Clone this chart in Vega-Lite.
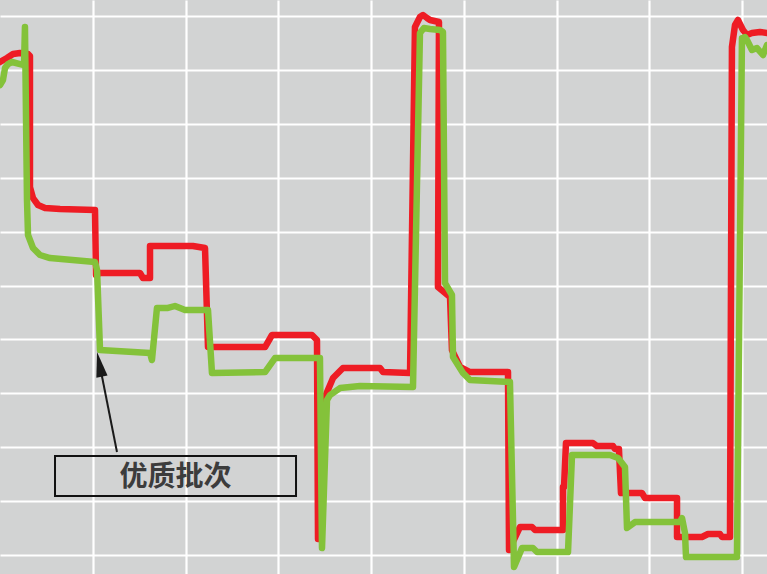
{
  "$schema": "https://vega.github.io/schema/vega-lite/v6.json",
  "width": 767,
  "height": 574,
  "autosize": {"type": "fit", "contains": "padding"},
  "padding": 0,
  "background": "#d2d3d3",
  "config": {
    "view": {"stroke": null, "fill": "#d2d3d3"},
    "axis": {"grid": true, "gridColor": "#ffffff", "gridWidth": 2.2, "gridOpacity": 1, "labels": false, "ticks": false, "domain": false, "title": null}
  },
  "datasets": {
    "series": [
      {"s": "普通批次", "i": 0, "x": 0, "y": 91.47},
      {"s": "普通批次", "i": 1, "x": 0.75, "y": 92.21},
      {"s": "普通批次", "i": 2, "x": 1.40, "y": 92.95},
      {"s": "普通批次", "i": 3, "x": 2.16, "y": 93.14},
      {"s": "普通批次", "i": 4, "x": 3.02, "y": 92.95},
      {"s": "普通批次", "i": 5, "x": 3.23, "y": 92.58},
      {"s": "普通批次", "i": 6, "x": 3.23, "y": 68.27},
      {"s": "普通批次", "i": 7, "x": 3.56, "y": 66.23},
      {"s": "普通批次", "i": 8, "x": 4.10, "y": 64.94},
      {"s": "普通批次", "i": 9, "x": 4.85, "y": 64.38},
      {"s": "普通批次", "i": 10, "x": 6.47, "y": 64.19},
      {"s": "普通批次", "i": 11, "x": 10.24, "y": 64.01},
      {"s": "普通批次", "i": 12, "x": 10.35, "y": 51.95},
      {"s": "普通批次", "i": 13, "x": 10.78, "y": 52.32},
      {"s": "普通批次", "i": 14, "x": 15.09, "y": 52.32},
      {"s": "普通批次", "i": 15, "x": 15.41, "y": 51.39},
      {"s": "普通批次", "i": 16, "x": 16.17, "y": 51.39},
      {"s": "普通批次", "i": 17, "x": 16.17, "y": 57.33},
      {"s": "普通批次", "i": 18, "x": 20.80, "y": 57.33},
      {"s": "普通批次", "i": 19, "x": 22.10, "y": 56.96},
      {"s": "普通批次", "i": 20, "x": 22.42, "y": 38.59},
      {"s": "普通批次", "i": 21, "x": 28.57, "y": 38.59},
      {"s": "普通批次", "i": 22, "x": 29.32, "y": 40.82},
      {"s": "普通批次", "i": 23, "x": 33.63, "y": 40.82},
      {"s": "普通批次", "i": 24, "x": 34.17, "y": 39.89},
      {"s": "普通批次", "i": 25, "x": 34.28, "y": 2.97},
      {"s": "普通批次", "i": 26, "x": 35.03, "y": 29.31},
      {"s": "普通批次", "i": 27, "x": 35.90, "y": 32.84},
      {"s": "普通批次", "i": 28, "x": 36.97, "y": 34.69},
      {"s": "普通批次", "i": 29, "x": 40.96, "y": 34.69},
      {"s": "普通批次", "i": 30, "x": 41.29, "y": 33.95},
      {"s": "普通批次", "i": 31, "x": 44.20, "y": 33.77},
      {"s": "普通批次", "i": 32, "x": 44.73, "y": 97.96},
      {"s": "普通批次", "i": 33, "x": 45.27, "y": 99.81},
      {"s": "普通批次", "i": 34, "x": 45.60, "y": 100.19},
      {"s": "普通批次", "i": 35, "x": 46.03, "y": 99.63},
      {"s": "普通批次", "i": 36, "x": 46.35, "y": 99.26},
      {"s": "普通批次", "i": 37, "x": 47.32, "y": 98.89},
      {"s": "普通批次", "i": 38, "x": 47.21, "y": 49.72},
      {"s": "普通批次", "i": 39, "x": 48.51, "y": 47.87},
      {"s": "普通批次", "i": 40, "x": 48.72, "y": 38.03},
      {"s": "普通批次", "i": 41, "x": 49.59, "y": 34.88},
      {"s": "普通批次", "i": 42, "x": 50.66, "y": 33.95},
      {"s": "普通批次", "i": 43, "x": 54.76, "y": 33.95},
      {"s": "普通批次", "i": 44, "x": 54.87, "y": 0.93},
      {"s": "普通批次", "i": 45, "x": 56.05, "y": 5.19},
      {"s": "普通批次", "i": 46, "x": 57.35, "y": 5.19},
      {"s": "普通批次", "i": 47, "x": 57.67, "y": 4.64},
      {"s": "普通批次", "i": 48, "x": 60.69, "y": 4.64},
      {"s": "普通批次", "i": 49, "x": 60.69, "y": 12.62},
      {"s": "普通批次", "i": 50, "x": 60.80, "y": 12.62},
      {"s": "普通批次", "i": 51, "x": 61.01, "y": 20.78},
      {"s": "普通批次", "i": 52, "x": 63.92, "y": 20.78},
      {"s": "普通批次", "i": 53, "x": 64.35, "y": 20.22},
      {"s": "普通批次", "i": 54, "x": 66.08, "y": 20.22},
      {"s": "普通批次", "i": 55, "x": 66.29, "y": 19.67},
      {"s": "普通批次", "i": 56, "x": 66.72, "y": 19.67},
      {"s": "普通批次", "i": 57, "x": 66.94, "y": 11.50},
      {"s": "普通批次", "i": 58, "x": 69.20, "y": 11.50},
      {"s": "普通批次", "i": 59, "x": 69.53, "y": 10.58},
      {"s": "普通批次", "i": 60, "x": 72.98, "y": 10.58},
      {"s": "普通批次", "i": 61, "x": 72.98, "y": 3.34},
      {"s": "普通批次", "i": 62, "x": 75.67, "y": 3.34},
      {"s": "普通批次", "i": 63, "x": 76.32, "y": 3.90},
      {"s": "普通批次", "i": 64, "x": 77.61, "y": 3.90},
      {"s": "普通批次", "i": 65, "x": 77.83, "y": 3.34},
      {"s": "普通批次", "i": 66, "x": 78.69, "y": 3.34},
      {"s": "普通批次", "i": 67, "x": 78.90, "y": 94.25},
      {"s": "普通批次", "i": 68, "x": 79.23, "y": 98.33},
      {"s": "普通批次", "i": 69, "x": 79.55, "y": 99.26},
      {"s": "普通批次", "i": 70, "x": 80.09, "y": 97.40},
      {"s": "普通批次", "i": 71, "x": 80.52, "y": 96.48},
      {"s": "普通批次", "i": 72, "x": 81.06, "y": 96.85},
      {"s": "普通批次", "i": 73, "x": 81.92, "y": 97.03},
      {"s": "普通批次", "i": 74, "x": 82.68, "y": 96.85},
      {"s": "优质批次", "i": 0, "x": 0, "y": 87.20},
      {"s": "优质批次", "i": 1, "x": 0.32, "y": 88.13},
      {"s": "优质批次", "i": 2, "x": 0.54, "y": 90.35},
      {"s": "优质批次", "i": 3, "x": 0.86, "y": 91.09},
      {"s": "优质批次", "i": 4, "x": 1.29, "y": 91.47},
      {"s": "优质批次", "i": 5, "x": 2.16, "y": 91.09},
      {"s": "优质批次", "i": 6, "x": 2.59, "y": 90.91},
      {"s": "优质批次", "i": 7, "x": 2.69, "y": 97.96},
      {"s": "优质批次", "i": 8, "x": 2.91, "y": 65.86},
      {"s": "优质批次", "i": 9, "x": 3.02, "y": 59.37},
      {"s": "优质批次", "i": 10, "x": 3.56, "y": 56.96},
      {"s": "优质批次", "i": 11, "x": 4.31, "y": 55.66},
      {"s": "优质批次", "i": 12, "x": 5.39, "y": 55.10},
      {"s": "优质批次", "i": 13, "x": 10.24, "y": 54.36},
      {"s": "优质批次", "i": 14, "x": 10.46, "y": 52.88},
      {"s": "优质批次", "i": 15, "x": 10.78, "y": 38.03},
      {"s": "优质批次", "i": 16, "x": 16.17, "y": 37.48},
      {"s": "优质批次", "i": 17, "x": 16.38, "y": 36.18},
      {"s": "优质批次", "i": 18, "x": 16.92, "y": 45.83},
      {"s": "优质批次", "i": 19, "x": 18.11, "y": 45.83},
      {"s": "优质批次", "i": 20, "x": 18.86, "y": 46.20},
      {"s": "优质批次", "i": 21, "x": 19.94, "y": 45.45},
      {"s": "优质批次", "i": 22, "x": 22.42, "y": 45.45},
      {"s": "优质批次", "i": 23, "x": 22.85, "y": 33.77},
      {"s": "优质批次", "i": 24, "x": 28.57, "y": 33.95},
      {"s": "优质批次", "i": 25, "x": 29.64, "y": 36.55},
      {"s": "优质批次", "i": 26, "x": 34.49, "y": 36.55},
      {"s": "优质批次", "i": 27, "x": 34.71, "y": 1.30},
      {"s": "优质批次", "i": 28, "x": 35.25, "y": 28.76},
      {"s": "优质批次", "i": 29, "x": 35.57, "y": 29.68},
      {"s": "优质批次", "i": 30, "x": 36.65, "y": 30.98},
      {"s": "优质批次", "i": 31, "x": 38.81, "y": 31.35},
      {"s": "优质批次", "i": 32, "x": 44.52, "y": 31.17},
      {"s": "优质批次", "i": 33, "x": 45.27, "y": 96.85},
      {"s": "优质批次", "i": 34, "x": 45.70, "y": 97.77},
      {"s": "优质批次", "i": 35, "x": 46.35, "y": 97.59},
      {"s": "优质批次", "i": 36, "x": 47.43, "y": 97.40},
      {"s": "优质批次", "i": 37, "x": 47.75, "y": 97.03},
      {"s": "优质批次", "i": 38, "x": 47.97, "y": 50.46},
      {"s": "优质批次", "i": 39, "x": 48.72, "y": 48.24},
      {"s": "优质批次", "i": 40, "x": 48.83, "y": 36.73},
      {"s": "优质批次", "i": 41, "x": 49.91, "y": 33.77},
      {"s": "优质批次", "i": 42, "x": 50.66, "y": 32.47},
      {"s": "优质批次", "i": 43, "x": 54.97, "y": 32.10},
      {"s": "优质批次", "i": 44, "x": 55.41, "y": -2.23},
      {"s": "优质批次", "i": 45, "x": 56.27, "y": 1.30},
      {"s": "优质批次", "i": 46, "x": 57.45, "y": 1.30},
      {"s": "优质批次", "i": 47, "x": 57.89, "y": 0.56},
      {"s": "优质批次", "i": 48, "x": 61.23, "y": 0.56},
      {"s": "优质批次", "i": 49, "x": 61.66, "y": 18.55},
      {"s": "优质批次", "i": 50, "x": 65.75, "y": 18.55},
      {"s": "优质批次", "i": 51, "x": 66.62, "y": 18.00},
      {"s": "优质批次", "i": 52, "x": 67.37, "y": 16.33},
      {"s": "优质批次", "i": 53, "x": 67.59, "y": 5.01},
      {"s": "优质批次", "i": 54, "x": 68.45, "y": 6.12},
      {"s": "优质批次", "i": 55, "x": 73.30, "y": 6.12},
      {"s": "优质批次", "i": 56, "x": 73.52, "y": 6.86},
      {"s": "优质批次", "i": 57, "x": 73.84, "y": 4.08},
      {"s": "优质批次", "i": 58, "x": 73.95, "y": -0.37},
      {"s": "优质批次", "i": 59, "x": 79.44, "y": -0.37},
      {"s": "优质批次", "i": 60, "x": 79.98, "y": 95.92},
      {"s": "优质批次", "i": 61, "x": 80.31, "y": 96.10},
      {"s": "优质批次", "i": 62, "x": 80.52, "y": 95.55},
      {"s": "优质批次", "i": 63, "x": 81.06, "y": 93.69},
      {"s": "优质批次", "i": 64, "x": 81.60, "y": 94.06},
      {"s": "优质批次", "i": 65, "x": 82.25, "y": 92.77},
      {"s": "优质批次", "i": 66, "x": 82.68, "y": 94.62}
    ],
    "note": [
      {"label": "优质批次", "x1": 5.93, "x2": 31.91, "y1": 10.95, "y2": 18.37, "tx": 18.92, "ty": 14.3, "ax": 12.61, "ay": 19.11, "bx": 10.89, "by": 34.04, "px": 10.46, "py": 37.66}
    ]
  },
  "layer": [
    {
      "data": {"name": "series"},
      "mark": {"type": "line", "strokeWidth": 6.5, "strokeJoin": "round", "strokeCap": "round", "clip": true},
      "encoding": {
        "x": {"field": "x", "type": "quantitative", "scale": {"domain": [0, 82.68], "nice": false, "zero": false}, "axis": {"values": [10, 20, 30, 40, 50, 60, 70, 80]}},
        "y": {"field": "y", "type": "quantitative", "scale": {"domain": [-3.52, 102.97], "nice": false, "zero": false}, "axis": {"values": [0, 10, 20, 30, 40, 50, 60, 70, 80, 90, 100]}},
        "color": {"field": "s", "type": "nominal", "scale": {"domain": ["普通批次", "优质批次"], "range": ["#ee1c24", "#84c23a"]}, "legend": null},
        "order": {"field": "i", "type": "quantitative"}
      }
    },
    {
      "data": {"name": "note"},
      "mark": {"type": "rect", "fill": null, "fillOpacity": 0, "stroke": "#111111", "strokeWidth": 2},
      "encoding": {
        "x": {"field": "x1", "type": "quantitative"},
        "x2": {"field": "x2"},
        "y": {"field": "y1", "type": "quantitative"},
        "y2": {"field": "y2"}
      }
    },
    {
      "data": {"name": "note"},
      "mark": {"type": "text", "font": "Noto Sans CJK SC", "fontSize": 28, "fontWeight": "bold", "color": "#3c3c3c", "align": "center", "baseline": "middle"},
      "encoding": {
        "x": {"field": "tx", "type": "quantitative"},
        "y": {"field": "ty", "type": "quantitative"},
        "text": {"field": "label"}
      }
    },
    {
      "data": {"name": "note"},
      "mark": {"type": "rule", "stroke": "#1a1a1a", "strokeWidth": 2},
      "encoding": {
        "x": {"field": "ax", "type": "quantitative"},
        "y": {"field": "ay", "type": "quantitative"},
        "x2": {"field": "bx"},
        "y2": {"field": "by"}
      }
    },
    {
      "data": {"name": "note"},
      "mark": {"type": "point", "shape": "M0,0L0.5,2.2L-0.5,2.2Z", "filled": true, "color": "#1a1a1a", "opacity": 1, "size": 520, "angle": 348.7},
      "encoding": {
        "x": {"field": "px", "type": "quantitative"},
        "y": {"field": "py", "type": "quantitative"}
      }
    }
  ]
}
